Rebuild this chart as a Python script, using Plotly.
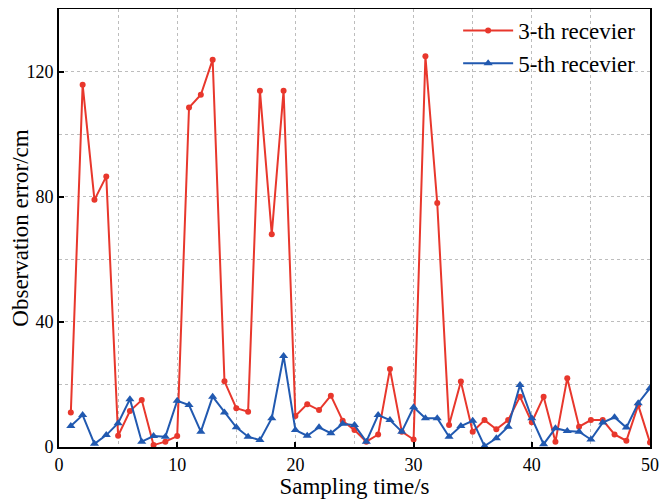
import plotly.graph_objects as go

t = list(range(1, 51))
rec3 = [11, 115.8, 79, 86.5, 3.6, 11.5, 15, 0.6, 1.7, 3.5,
        108.5, 112.6, 123.8, 21, 12.4, 11.3, 113.9, 68, 113.9, 9.9,
        13.7, 11.8, 16.4, 8.4, 5.4, 1.7, 4, 24.9, 4.9, 2.4,
        124.9, 78, 7, 20.9, 4.9, 8.6, 5.7, 8.6, 16.1, 7.9,
        16.1, 1.7, 22, 6.5, 8.6, 8.6, 4, 2, 13.4, 1.4]
rec5 = [6.7, 10.2, 1, 3.8, 7.6, 15.3, 1.7, 3.5, 3.3, 14.8,
        13.4, 4.9, 16.1, 11, 6.3, 3.3, 2.2, 9.2, 29.1, 5.4,
        3.6, 6.3, 4.4, 7.4, 7, 1.7, 10.2, 8.6, 4.9, 12.7,
        9.2, 9.2, 3.3, 6.7, 8.4, 0.3, 2.8, 6.5, 19.8, 9.2,
        0.9, 6, 5.1, 4.9, 2.4, 7.8, 9.5, 6.2, 14, 18.8]

RED = "#e8372c"
BLUE = "#2159b0"
FONT = "Liberation Serif"
GRID = "#bdbdbd"

fig = go.Figure()
fig.add_trace(go.Scatter(x=t, y=rec3, mode="lines+markers", name="3-th recevier",
                         line=dict(color=RED, width=2),
                         marker=dict(symbol="circle", size=6, color=RED)))
fig.add_trace(go.Scatter(x=t, y=rec5, mode="lines+markers", name="5-th recevier",
                         line=dict(color=BLUE, width=2),
                         marker=dict(symbol="triangle-up", size=8, color=BLUE)))

axis_common = dict(showline=True, linecolor="black", linewidth=1.8, mirror=True,
                   ticks="inside", ticklen=5, tickwidth=1.5, tickcolor="black",
                   showgrid=True, gridcolor=GRID, griddash="3px,3px", gridwidth=1,
                   zeroline=False, tickfont=dict(family=FONT, size=18, color="black"))

fig.update_xaxes(range=[0, 50], dtick=10, tick0=0,
                 minor=dict(dtick=5, showgrid=True, gridcolor=GRID, griddash="3px,3px", gridwidth=1, ticks=""),
                 title=dict(text="Sampling time/s", font=dict(family=FONT, size=23, color="black"), standoff=3),
                 **axis_common)
fig.update_yaxes(range=[0, 140], dtick=40, tick0=0,
                 minor=dict(dtick=20, showgrid=True, gridcolor=GRID, griddash="3px,3px", gridwidth=1, ticks=""),
                 title=dict(text="Observation error/cm", font=dict(family=FONT, size=23, color="black"), standoff=4),
                 **axis_common)

fig.update_layout(width=659, height=496,
                  margin=dict(l=51, r=17, t=1, b=57, autoexpand=False),
                  plot_bgcolor="white", paper_bgcolor="white",
                  font=dict(family=FONT, color="black"),
                  legend=dict(x=0.985, y=1.0, xanchor="right", yanchor="top",
                              bgcolor="rgba(0,0,0,0)", borderwidth=0,
                              font=dict(family=FONT, size=23, color="black"),
                              itemwidth=50, tracegroupgap=0))

fig.write_html("out.html")
